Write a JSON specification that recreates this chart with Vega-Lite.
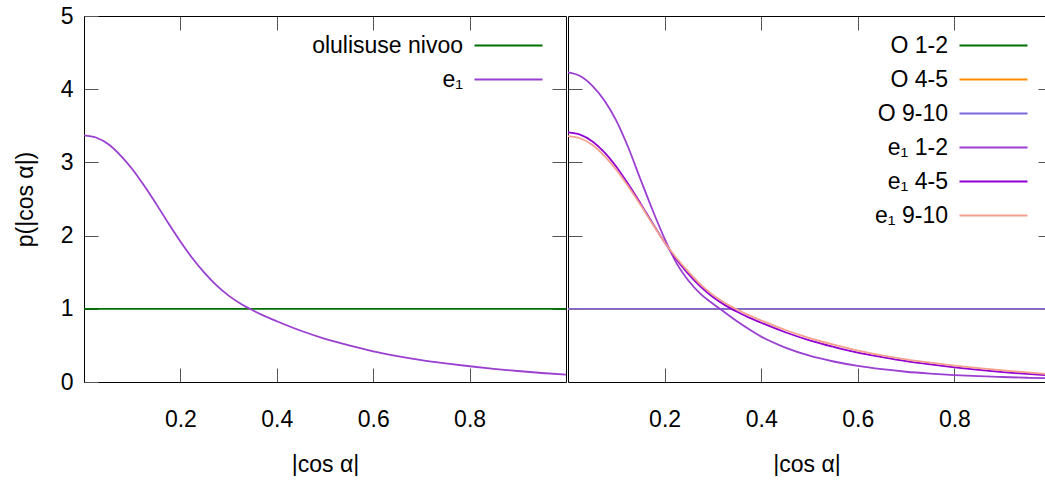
{
  "$schema": "https://vega.github.io/schema/vega-lite/v6.json",
  "autosize": {"type": "pad"},
  "padding": {"left": 14, "top": 5, "right": 0, "bottom": 0},
  "spacing": 0,
  "datasets": {
    "left": [
      {"s": "olulisuse nivoo", "x": 0, "p": 1},
      {"s": "olulisuse nivoo", "x": 0.1, "p": 1},
      {"s": "olulisuse nivoo", "x": 0.2, "p": 1},
      {"s": "olulisuse nivoo", "x": 0.3, "p": 1},
      {"s": "olulisuse nivoo", "x": 0.4, "p": 1},
      {"s": "olulisuse nivoo", "x": 0.5, "p": 1},
      {"s": "olulisuse nivoo", "x": 0.6, "p": 1},
      {"s": "olulisuse nivoo", "x": 0.7, "p": 1},
      {"s": "olulisuse nivoo", "x": 0.8, "p": 1},
      {"s": "olulisuse nivoo", "x": 0.9, "p": 1},
      {"s": "olulisuse nivoo", "x": 1.0, "p": 1},
      {"s": "e₁", "x": 0, "p": 3.37},
      {"s": "e₁", "x": 0.025, "p": 3.34},
      {"s": "e₁", "x": 0.05, "p": 3.25},
      {"s": "e₁", "x": 0.075, "p": 3.10},
      {"s": "e₁", "x": 0.1, "p": 2.91},
      {"s": "e₁", "x": 0.125, "p": 2.68},
      {"s": "e₁", "x": 0.15, "p": 2.43},
      {"s": "e₁", "x": 0.175, "p": 2.17},
      {"s": "e₁", "x": 0.2, "p": 1.92},
      {"s": "e₁", "x": 0.225, "p": 1.69},
      {"s": "e₁", "x": 0.25, "p": 1.49},
      {"s": "e₁", "x": 0.275, "p": 1.32},
      {"s": "e₁", "x": 0.3, "p": 1.18},
      {"s": "e₁", "x": 0.325, "p": 1.07},
      {"s": "e₁", "x": 0.35, "p": 0.98},
      {"s": "e₁", "x": 0.375, "p": 0.90},
      {"s": "e₁", "x": 0.4, "p": 0.83},
      {"s": "e₁", "x": 0.45, "p": 0.70},
      {"s": "e₁", "x": 0.5, "p": 0.59},
      {"s": "e₁", "x": 0.55, "p": 0.50},
      {"s": "e₁", "x": 0.6, "p": 0.42},
      {"s": "e₁", "x": 0.65, "p": 0.355},
      {"s": "e₁", "x": 0.7, "p": 0.30},
      {"s": "e₁", "x": 0.75, "p": 0.255},
      {"s": "e₁", "x": 0.8, "p": 0.215},
      {"s": "e₁", "x": 0.85, "p": 0.18},
      {"s": "e₁", "x": 0.9, "p": 0.15},
      {"s": "e₁", "x": 0.95, "p": 0.123},
      {"s": "e₁", "x": 1.0, "p": 0.10}
    ],
    "right": [
      {"s": "O 1-2", "x": 0, "p": 1},
      {"s": "O 1-2", "x": 0.5, "p": 1},
      {"s": "O 1-2", "x": 1.0, "p": 1},
      {"s": "O 4-5", "x": 0, "p": 1},
      {"s": "O 4-5", "x": 0.5, "p": 1},
      {"s": "O 4-5", "x": 1.0, "p": 1},
      {"s": "O 9-10", "x": 0, "p": 1},
      {"s": "O 9-10", "x": 0.5, "p": 1},
      {"s": "O 9-10", "x": 1.0, "p": 1},
      {"s": "e₁ 1-2", "x": 0, "p": 4.23},
      {"s": "e₁ 1-2", "x": 0.025, "p": 4.18},
      {"s": "e₁ 1-2", "x": 0.05, "p": 4.05},
      {"s": "e₁ 1-2", "x": 0.075, "p": 3.85},
      {"s": "e₁ 1-2", "x": 0.1, "p": 3.57},
      {"s": "e₁ 1-2", "x": 0.125, "p": 3.20},
      {"s": "e₁ 1-2", "x": 0.15, "p": 2.77},
      {"s": "e₁ 1-2", "x": 0.175, "p": 2.35},
      {"s": "e₁ 1-2", "x": 0.2, "p": 1.96},
      {"s": "e₁ 1-2", "x": 0.225, "p": 1.62},
      {"s": "e₁ 1-2", "x": 0.25, "p": 1.38},
      {"s": "e₁ 1-2", "x": 0.275, "p": 1.20},
      {"s": "e₁ 1-2", "x": 0.3, "p": 1.07},
      {"s": "e₁ 1-2", "x": 0.325, "p": 0.95},
      {"s": "e₁ 1-2", "x": 0.35, "p": 0.83},
      {"s": "e₁ 1-2", "x": 0.375, "p": 0.72},
      {"s": "e₁ 1-2", "x": 0.4, "p": 0.62},
      {"s": "e₁ 1-2", "x": 0.45, "p": 0.47},
      {"s": "e₁ 1-2", "x": 0.5, "p": 0.36},
      {"s": "e₁ 1-2", "x": 0.55, "p": 0.28},
      {"s": "e₁ 1-2", "x": 0.6, "p": 0.22},
      {"s": "e₁ 1-2", "x": 0.65, "p": 0.175},
      {"s": "e₁ 1-2", "x": 0.7, "p": 0.14},
      {"s": "e₁ 1-2", "x": 0.75, "p": 0.115},
      {"s": "e₁ 1-2", "x": 0.8, "p": 0.095},
      {"s": "e₁ 1-2", "x": 0.85, "p": 0.08},
      {"s": "e₁ 1-2", "x": 0.9, "p": 0.068},
      {"s": "e₁ 1-2", "x": 0.95, "p": 0.058},
      {"s": "e₁ 1-2", "x": 1.0, "p": 0.05},
      {"s": "e₁ 4-5", "x": 0, "p": 3.41},
      {"s": "e₁ 4-5", "x": 0.025, "p": 3.38},
      {"s": "e₁ 4-5", "x": 0.05, "p": 3.29},
      {"s": "e₁ 4-5", "x": 0.075, "p": 3.14},
      {"s": "e₁ 4-5", "x": 0.1, "p": 2.94},
      {"s": "e₁ 4-5", "x": 0.125, "p": 2.70},
      {"s": "e₁ 4-5", "x": 0.15, "p": 2.44},
      {"s": "e₁ 4-5", "x": 0.175, "p": 2.17},
      {"s": "e₁ 4-5", "x": 0.2, "p": 1.91},
      {"s": "e₁ 4-5", "x": 0.225, "p": 1.67},
      {"s": "e₁ 4-5", "x": 0.25, "p": 1.47},
      {"s": "e₁ 4-5", "x": 0.275, "p": 1.30},
      {"s": "e₁ 4-5", "x": 0.3, "p": 1.16},
      {"s": "e₁ 4-5", "x": 0.325, "p": 1.05},
      {"s": "e₁ 4-5", "x": 0.35, "p": 0.96},
      {"s": "e₁ 4-5", "x": 0.375, "p": 0.88},
      {"s": "e₁ 4-5", "x": 0.4, "p": 0.81},
      {"s": "e₁ 4-5", "x": 0.45, "p": 0.68},
      {"s": "e₁ 4-5", "x": 0.5, "p": 0.57},
      {"s": "e₁ 4-5", "x": 0.55, "p": 0.48},
      {"s": "e₁ 4-5", "x": 0.6, "p": 0.40},
      {"s": "e₁ 4-5", "x": 0.65, "p": 0.34},
      {"s": "e₁ 4-5", "x": 0.7, "p": 0.285},
      {"s": "e₁ 4-5", "x": 0.75, "p": 0.24},
      {"s": "e₁ 4-5", "x": 0.8, "p": 0.20},
      {"s": "e₁ 4-5", "x": 0.85, "p": 0.165},
      {"s": "e₁ 4-5", "x": 0.9, "p": 0.135},
      {"s": "e₁ 4-5", "x": 0.95, "p": 0.11},
      {"s": "e₁ 4-5", "x": 1.0, "p": 0.09},
      {"s": "e₁ 9-10", "x": 0, "p": 3.36},
      {"s": "e₁ 9-10", "x": 0.025, "p": 3.33},
      {"s": "e₁ 9-10", "x": 0.05, "p": 3.24},
      {"s": "e₁ 9-10", "x": 0.075, "p": 3.09},
      {"s": "e₁ 9-10", "x": 0.1, "p": 2.90},
      {"s": "e₁ 9-10", "x": 0.125, "p": 2.67},
      {"s": "e₁ 9-10", "x": 0.15, "p": 2.42},
      {"s": "e₁ 9-10", "x": 0.175, "p": 2.16},
      {"s": "e₁ 9-10", "x": 0.2, "p": 1.91},
      {"s": "e₁ 9-10", "x": 0.225, "p": 1.69},
      {"s": "e₁ 9-10", "x": 0.25, "p": 1.50},
      {"s": "e₁ 9-10", "x": 0.275, "p": 1.33},
      {"s": "e₁ 9-10", "x": 0.3, "p": 1.19},
      {"s": "e₁ 9-10", "x": 0.325, "p": 1.08},
      {"s": "e₁ 9-10", "x": 0.35, "p": 0.99},
      {"s": "e₁ 9-10", "x": 0.375, "p": 0.91},
      {"s": "e₁ 9-10", "x": 0.4, "p": 0.84},
      {"s": "e₁ 9-10", "x": 0.45, "p": 0.71},
      {"s": "e₁ 9-10", "x": 0.5, "p": 0.60},
      {"s": "e₁ 9-10", "x": 0.55, "p": 0.51},
      {"s": "e₁ 9-10", "x": 0.6, "p": 0.43},
      {"s": "e₁ 9-10", "x": 0.65, "p": 0.365},
      {"s": "e₁ 9-10", "x": 0.7, "p": 0.31},
      {"s": "e₁ 9-10", "x": 0.75, "p": 0.265},
      {"s": "e₁ 9-10", "x": 0.8, "p": 0.225},
      {"s": "e₁ 9-10", "x": 0.85, "p": 0.19},
      {"s": "e₁ 9-10", "x": 0.9, "p": 0.16},
      {"s": "e₁ 9-10", "x": 0.95, "p": 0.132},
      {"s": "e₁ 9-10", "x": 1.0, "p": 0.105}
    ]
  },
  "hconcat": [
    {
      "width": 482,
      "height": 366,
      "data": {"name": "left"},
      "layer": [
        {
          "mark": {"type": "line", "strokeWidth": 1.8, "clip": true, "interpolate": "monotone"},
          "encoding": {
            "x": {"field": "x", "type": "quantitative", "scale": {"domain": [0, 1], "nice": false, "zero": false},
                  "axis": {"orient": "bottom", "title": "|cos α|", "values": [0.2, 0.4, 0.6, 0.8], "format": ".1f", "tickSize": -14, "labelPadding": 40, "titlePadding": 22, "grid": false}},
            "y": {"field": "p", "type": "quantitative", "scale": {"domain": [0, 5], "nice": false},
                  "axis": {"orient": "left", "title": "p(|cos α|)", "values": [0, 1, 2, 3, 4, 5], "tickSize": -14, "labelPadding": 25, "titlePadding": 23, "grid": false}},
            "color": {"field": "s", "type": "nominal", "sort": null,
                      "scale": {"domain": ["olulisuse nivoo", "e₁"], "range": ["#007000", "#9a3fd0"]},
                      "legend": {"legendX": 413, "legendY": 18}}
          }
        },
        {
          "mark": {"type": "line", "opacity": 0},
          "encoding": {
            "x": {"field": "x", "type": "quantitative", "axis": {"orient": "top", "title": null, "labels": false, "values": [0.2, 0.4, 0.6, 0.8], "tickSize": -14, "grid": false}},
            "y": {"field": "p", "type": "quantitative", "axis": {"orient": "right", "title": null, "labels": false, "values": [1, 2, 3, 4], "tickSize": -14, "grid": false}}
          }
        }
      ],
      "resolve": {"axis": {"x": "independent", "y": "independent"}}
    },
    {
      "width": 477,
      "height": 366,
      "data": {"name": "right"},
      "layer": [
        {
          "mark": {"type": "line", "strokeWidth": 1.8, "clip": true, "interpolate": "monotone"},
          "encoding": {
            "x": {"field": "x", "type": "quantitative", "scale": {"domain": [0, 0.9876], "nice": false, "zero": false},
                  "axis": {"orient": "bottom", "title": "|cos α|", "values": [0.2, 0.4, 0.6, 0.8], "format": ".1f", "tickSize": -14, "labelPadding": 40, "titlePadding": 22, "grid": false}},
            "y": {"field": "p", "type": "quantitative", "scale": {"domain": [0, 5], "nice": false},
                  "axis": {"orient": "left", "title": null, "labels": false, "values": [1, 2, 3, 4], "tickSize": -14, "grid": false}},
            "color": {"field": "s", "type": "nominal", "sort": null,
                      "scale": {"domain": ["O 1-2", "O 4-5", "O 9-10", "e₁ 1-2", "e₁ 4-5", "e₁ 9-10"], "range": ["#007000", "#ff8c00", "#7b68dd", "#9a3fd0", "#9400d3", "#f4a08c"]},
                      "legend": {"legendX": 414, "legendY": 18}}
          }
        },
        {
          "mark": {"type": "line", "opacity": 0},
          "encoding": {
            "x": {"field": "x", "type": "quantitative", "axis": {"orient": "top", "title": null, "labels": false, "values": [0.2, 0.4, 0.6, 0.8], "tickSize": -14, "grid": false}},
            "y": {"field": "p", "type": "quantitative", "axis": {"orient": "right", "title": null, "labels": false, "domain": false, "values": [1, 2, 3, 4], "tickSize": -7, "grid": false}}
          }
        }
      ],
      "resolve": {"axis": {"x": "independent", "y": "independent"}}
    }
  ],
  "resolve": {"scale": {"color": "independent"}, "legend": {"color": "independent"}},
  "config": {
    "font": "Liberation Sans",
    "view": {"stroke": null},
    "axis": {
      "labelFont": "Liberation Sans", "labelFontSize": 23, "labelColor": "#000",
      "titleFont": "Liberation Sans", "titleFontSize": 23, "titleFontWeight": "normal", "titleColor": "#000",
      "domainColor": "#000", "domainWidth": 1, "tickColor": "#555", "tickWidth": 1
    },
    "legend": {
      "orient": "none", "padding": 0, "title": null,
      "labelFont": "Liberation Sans", "labelFontSize": 23, "labelColor": "#000",
      "symbolType": "M-3.4,0H3.4", "symbolSize": 400, "symbolStrokeWidth": 2,
      "labelAlign": "right", "labelOffset": -57, "rowPadding": 10, "labelLimit": 300
    }
  }
}
